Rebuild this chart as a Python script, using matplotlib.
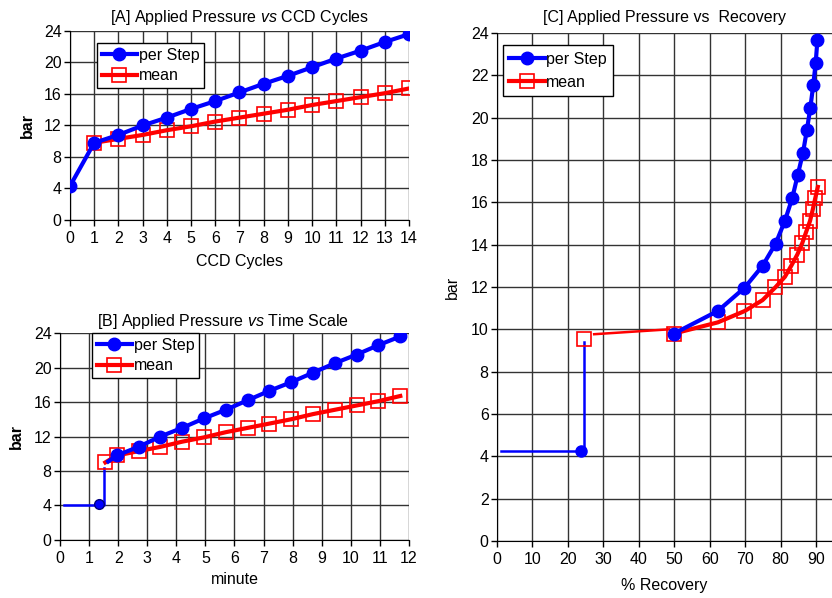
import matplotlib
matplotlib.use("Agg")
import matplotlib.pyplot as plt

plt.rcParams['font.family'] = ['Liberation Sans', 'DejaVu Sans']
plt.rcParams['mathtext.fontset'] = 'custom'
plt.rcParams['mathtext.rm'] = 'Liberation Sans'
plt.rcParams['mathtext.it'] = 'Liberation Sans:italic'
plt.rcParams['font.size'] = 11.5

# [A] pressure vs CCD cycles
cycles = list(range(15))
step_a = [4.3, 9.8, 10.8, 12.0, 13.0, 14.1, 15.1, 16.2, 17.3, 18.3, 19.4, 20.5, 21.5, 22.6, 23.6]
cycles_mean = list(range(1, 15))
mean_a = [9.8, 10.3, 10.8, 11.4, 11.9, 12.5, 13.0, 13.5, 14.0, 14.6, 15.1, 15.6, 16.1, 16.7]

# [B] pressure vs time (minute)
t_step = [1.66, 1.95, 2.7, 3.45, 4.2, 4.95, 5.7, 6.45, 7.2, 7.95, 8.7, 9.45, 10.2, 10.95, 11.7]
step_b = [9.1, 9.8, 10.8, 12.0, 13.0, 14.1, 15.1, 16.2, 17.3, 18.3, 19.4, 20.5, 21.5, 22.6, 23.6]
t_mean = [1.56, 1.95, 2.7, 3.45, 4.2, 4.95, 5.7, 6.45, 7.2, 7.95, 8.7, 9.45, 10.2, 10.95, 11.7]
mean_b = [9.0, 9.8, 10.3, 10.8, 11.4, 11.9, 12.5, 13.0, 13.5, 14.0, 14.6, 15.1, 15.6, 16.1, 16.7]
t_start, p_start = 1.35, 4.2
t_ramp = [0.15, 1.5, 1.5]
p_ramp = [4.1, 4.1, 8.4]

# [C] pressure vs recovery (%)
rec_step = [49.9, 62.3, 69.8, 74.9, 78.6, 81.2, 83.3, 84.8, 86.3, 87.4, 88.4, 89.2, 89.9, 90.4]
step_c = [9.8, 10.87, 11.96, 13.0, 14.05, 15.12, 16.21, 17.27, 18.33, 19.4, 20.48, 21.53, 22.6, 23.69]
rec_mean = [49.9, 62.3, 69.8, 74.9, 78.5, 81.2, 83.0, 84.7, 86.1, 87.2, 88.3, 89.1, 89.8, 90.5]
mean_c = [9.8, 10.33, 10.86, 11.38, 11.98, 12.48, 13.0, 13.53, 14.07, 14.6, 15.12, 15.68, 16.21, 16.73]
rec_start, p_start_c = 23.7, 4.25
rec_first_mean, p_first_mean = 24.6, 9.55
rec_ramp = [1.1, 24.5, 24.5]
p_ramp_c = [4.25, 4.25, 9.4]
rec_link = [27.4, 48.5]
p_link = [9.77, 10.0]

BLUE = '#0000ff'
RED = '#ff0000'

fig = plt.figure(figsize=(8.32, 5.98), dpi=100)
axA = fig.add_axes([0.0841, 0.6321, 0.4075, 0.3161])
axB = fig.add_axes([0.0721, 0.0970, 0.4195, 0.3461])
axC = fig.add_axes([0.5974, 0.0953, 0.4026, 0.8495])


def style(ax, xlim, xticks, yticks):
    ax.set_xlim(*xlim)
    ax.set_ylim(0, 24)
    ax.set_xticks(xticks)
    ax.set_yticks(yticks)
    ax.grid(True, color='#333333', lw=1)
    ax.set_axisbelow(True)
    for s in ['top', 'right']:
        ax.spines[s].set_visible(False)
    ax.tick_params(direction='out', length=4, width=1, labelsize=11.5)
    ax.tick_params(axis='y', pad=2)
    ax.tick_params(axis='x', pad=4)


def legend(ax, handles, anchor, spacing=0.35, bpad=0.3):
    leg = ax.legend(handles, ['per Step', 'mean'], loc='upper left',
                    bbox_to_anchor=anchor, borderaxespad=0,
                    fancybox=False, framealpha=1, edgecolor='black',
                    handlelength=2.2, handletextpad=0.1, labelspacing=spacing,
                    borderpad=bpad, fontsize=11.5)
    leg.get_frame().set_linewidth(1)


# panel A
ma, = axA.plot(cycles_mean, mean_a, color=RED, lw=3, marker='s', ms=10,
               mfc='none', mec=RED, mew=1.2, zorder=3)
sa, = axA.plot(cycles, step_a, color=BLUE, lw=3, marker='o', ms=9, zorder=4)
style(axA, (0, 14), range(0, 15), range(0, 25, 4))
axA.set_xlabel('CCD Cycles', labelpad=6)
axA.set_ylabel('bar', fontweight='bold', labelpad=6.5)
axA.set_title(r'[A] Applied Pressure $\it{vs}$ CCD Cycles', fontsize=11.5, pad=6.5)
legend(axA, [sa, ma], (0.08, 0.937))

# panel B
axB.plot(t_ramp, p_ramp, color=BLUE, lw=1.8, zorder=3)
axB.plot([t_start], [p_start], color=BLUE, marker='o', ms=7, mec='#000080', ls='none', zorder=4)
mb, = axB.plot(t_mean, mean_b, color=RED, lw=3, marker='s', ms=10,
               mfc='none', mec=RED, mew=1.2, zorder=3)
sb, = axB.plot(t_step, step_b, color=BLUE, lw=3, marker='o', ms=9,
               markevery=list(range(1, len(t_step))), zorder=4)
style(axB, (0, 12), range(0, 13), range(0, 25, 4))
axB.set_xlabel('minute', labelpad=4.5)
axB.set_ylabel('bar', fontweight='bold', labelpad=7.5)
axB.set_title(r'[B] Applied Pressure $\it{vs}$ Time Scale      ', fontsize=11.5, pad=5)
legend(axB, [sb, mb], (0.092, 1.0))

# panel C
axC.plot(rec_ramp, p_ramp_c, color=BLUE, lw=1.8, zorder=3)
axC.plot(rec_link, p_link, color=RED, lw=1.8, zorder=3)
axC.plot([rec_first_mean], [p_first_mean], marker='s', ms=10, mfc='none',
         mec=RED, mew=1.2, ls='none', zorder=3)
axC.plot([rec_start], [p_start_c], marker='o', ms=8, color=BLUE, ls='none', zorder=4)
mc, = axC.plot(rec_mean, mean_c, color=RED, lw=3, marker='s', ms=10,
               mfc='none', mec=RED, mew=1.2, zorder=3)
sc, = axC.plot(rec_step, step_c, color=BLUE, lw=3, marker='o', ms=9, zorder=4)
style(axC, (0, 94.5), range(0, 91, 10), range(0, 25, 2))
axC.set_xlabel('% Recovery', labelpad=8)
axC.set_ylabel('bar', labelpad=8)
axC.set_title('[C] Applied Pressure vs  Recovery', fontsize=11.5, pad=8)
legend(axC, [sc, mc], (0.018, 0.976), spacing=0.5, bpad=0.4)

fig.savefig('out.png', dpi=100)
